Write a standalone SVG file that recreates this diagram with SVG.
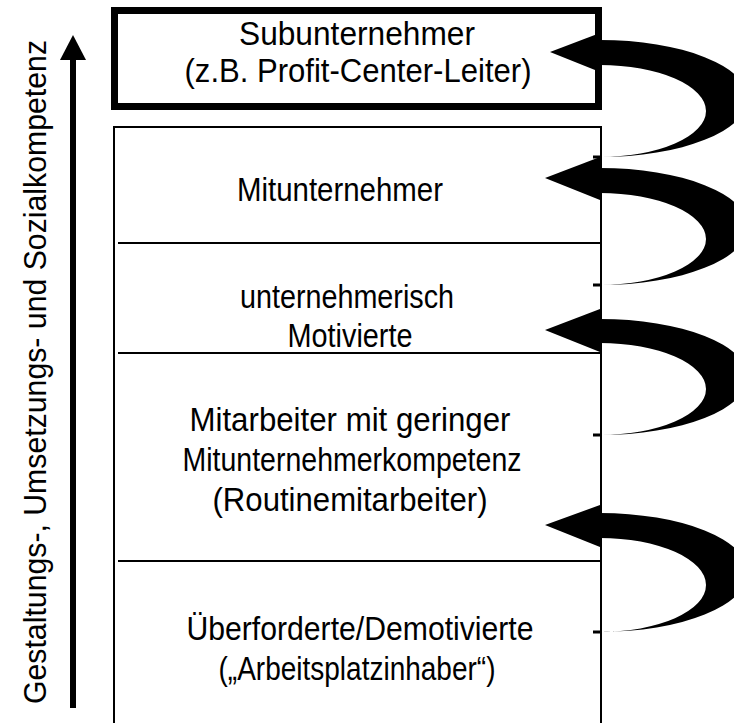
<svg xmlns="http://www.w3.org/2000/svg" width="734" height="723" viewBox="0 0 734 723">
<defs>
<style>
.t{font-family:"Liberation Sans",Arial,sans-serif;font-size:33px;fill:#000;text-anchor:middle}
.v{font-family:"Liberation Sans",Arial,sans-serif;font-size:31px;fill:#000;text-anchor:middle}
.box{fill:none;stroke:#000;stroke-width:2}
.div{stroke:#000;stroke-width:2}
.arc{fill:#000;stroke:none}
.tail{stroke:#000;stroke-width:3}
</style>
</defs>
<rect width="734" height="723" fill="#fff"/>
<g id="axis">
<line x1="73" y1="55" x2="73" y2="708" stroke="#000" stroke-width="6"/>
<polygon points="73,35 60,60 86,60" fill="#000"/>
<text class="v" transform="translate(46,372) rotate(-90)" textLength="664" lengthAdjust="spacingAndGlyphs">Gestaltungs-, Umsetzungs- und Sozialkompetenz</text>
</g>
<g id="subunternehmer">
<rect x="114.5" y="10.5" width="484" height="96" fill="#fff" stroke="#000" stroke-width="7"/>
<text class="t" x="357" y="45" textLength="236" lengthAdjust="spacingAndGlyphs">Subunternehmer</text>
<text class="t" x="358" y="82" textLength="347" lengthAdjust="spacingAndGlyphs">(z.B. Profit-Center-Leiter)</text>
</g>
<g id="frame">
<path class="box" d="M114,723 V127 H601 V723"/>
</g>
<g id="mitunternehmer">
<text class="t" x="340" y="201" textLength="206" lengthAdjust="spacingAndGlyphs">Mitunternehmer</text>
<line class="div" x1="118" y1="243" x2="601" y2="243"/>
</g>
<g id="motivierte">
<text class="t" x="347" y="308" textLength="214" lengthAdjust="spacingAndGlyphs">unternehmerisch</text>
<text class="t" x="350" y="347" textLength="125" lengthAdjust="spacingAndGlyphs">Motivierte</text>
<line class="div" x1="118" y1="353" x2="601" y2="353"/>
</g>
<g id="routine">
<text class="t" x="350" y="431" textLength="321" lengthAdjust="spacingAndGlyphs">Mitarbeiter mit geringer</text>
<text class="t" x="352" y="471" textLength="339" lengthAdjust="spacingAndGlyphs">Mitunternehmerkompetenz</text>
<text class="t" x="350" y="511" textLength="275" lengthAdjust="spacingAndGlyphs">(Routinemitarbeiter)</text>
<line class="div" x1="118" y1="561" x2="601" y2="561"/>
</g>
<g id="ueberfordert">
<text class="t" x="360" y="640" textLength="347" lengthAdjust="spacingAndGlyphs">Überforderte/Demotivierte</text>
<text class="t" x="357" y="680" textLength="277" lengthAdjust="spacingAndGlyphs">(„Arbeitsplatzinhaber“)</text>
</g>
<g id="connectors">
<path class="arc" d="M600,40 A148 58.5 0 0 1 600,157 A106 46 0 0 0 600,65 Z"/>
<polygon class="arc" points="600,33 550,52 600,72"/>
<line class="tail" x1="593" y1="157" x2="602" y2="157"/>
<path class="arc" d="M600,168 A148 58.5 0 0 1 600,285 A106 46 0 0 0 600,193 Z"/>
<polygon class="arc" points="600,157 545,178 600,200"/>
<line class="tail" x1="593" y1="285" x2="602" y2="285"/>
<path class="arc" d="M600,319 A148 58 0 0 1 600,435 A106 46 0 0 0 600,343 Z"/>
<polygon class="arc" points="600,309 545,330 600,352"/>
<line class="tail" x1="593" y1="435" x2="602" y2="435"/>
<path class="arc" d="M600,513 A148 59.5 0 0 1 600,632 A106 47 0 0 0 600,538 Z"/>
<polygon class="arc" points="600,505 545,525 600,547"/>
<line class="tail" x1="593" y1="632" x2="602" y2="632"/>
</g>
</svg>
